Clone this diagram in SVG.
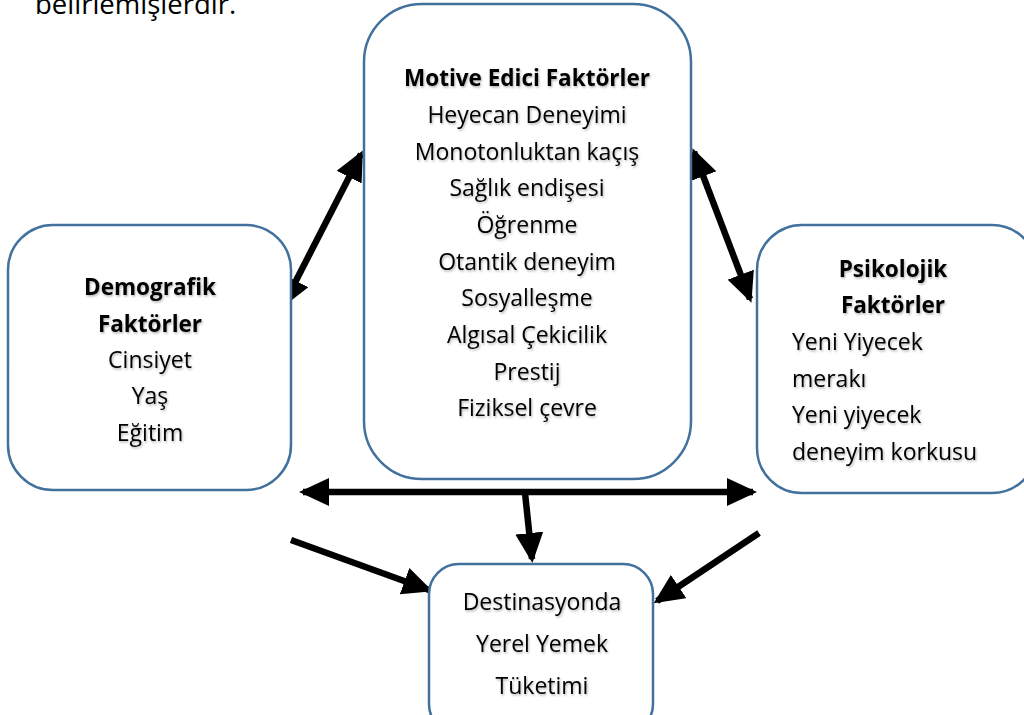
<svg xmlns="http://www.w3.org/2000/svg" width="1024" height="715" viewBox="0 0 1024 715">
<defs>
<style>
.box{fill:#fff;stroke:#41719C;stroke-width:2.5}
.t{font-family:"Open Sans",Lato,"Liberation Sans",sans-serif;font-size:23px;fill:#000;text-anchor:middle;filter:url(#sh)}
.b{font-weight:bold;font-size:22.5px}
.l{text-anchor:start}
.c{stroke:#000;stroke-width:6.5;fill:none}
</style>
<filter id="sh" x="-10%" y="-30%" width="120%" height="160%">
<feDropShadow dx="1" dy="1.5" stdDeviation="1" flood-color="#000" flood-opacity="0.3"/>
</filter>
<marker id="ah" viewBox="0 0 30 28" refX="26" refY="14" markerWidth="30" markerHeight="28" markerUnits="userSpaceOnUse" orient="auto-start-reverse">
<path d="M0,0 L30,14 L0,28 Z" fill="#000"/>
</marker>
</defs>
<text x="35" y="14" font-family="'Open Sans',Lato,'Liberation Sans',sans-serif" font-size="27.5" fill="#000">belirlemişlerdir.</text>
<g id="connectors">
<line class="c" x1="361" y1="154" x2="284" y2="304" marker-start="url(#ah)" marker-end="url(#ah)"/>
<line class="c" x1="694" y1="152" x2="750" y2="299" marker-start="url(#ah)" marker-end="url(#ah)"/>
<line class="c" x1="303" y1="492" x2="753" y2="492" marker-start="url(#ah)" marker-end="url(#ah)"/>
<line class="c" x1="525" y1="493" x2="532" y2="559" marker-end="url(#ah)"/>
<line class="c" x1="291" y1="540" x2="429" y2="590" marker-end="url(#ah)"/>
<line class="c" x1="759" y1="533" x2="657" y2="601" marker-end="url(#ah)"/>
</g>
<g id="motive">
<rect class="box" x="364" y="4" width="327" height="475" rx="58"/>
<text class="t b" x="527" y="86">Motive Edici Faktörler</text>
<text class="t" x="527" y="123">Heyecan Deneyimi</text>
<text class="t" x="527" y="160">Monotonluktan kaçış</text>
<text class="t" x="527" y="196">Sağlık endişesi</text>
<text class="t" x="527" y="233">Öğrenme</text>
<text class="t" x="527" y="270">Otantik deneyim</text>
<text class="t" x="527" y="306">Sosyalleşme</text>
<text class="t" x="527" y="343">Algısal Çekicilik</text>
<text class="t" x="527" y="380">Prestij</text>
<text class="t" x="527" y="416">Fiziksel çevre</text>
</g>
<g id="demografik">
<rect class="box" x="8" y="225" width="283" height="265" rx="45"/>
<text class="t b" x="150" y="295">Demografik</text>
<text class="t b" x="150" y="332">Faktörler</text>
<text class="t" x="150" y="368">Cinsiyet</text>
<text class="t" x="150" y="404">Yaş</text>
<text class="t" x="150" y="441">Eğitim</text>
</g>
<g id="psikolojik">
<rect class="box" x="757" y="225" width="280" height="268" rx="45"/>
<text class="t b" x="893" y="277">Psikolojik</text>
<text class="t b" x="893" y="313">Faktörler</text>
<text class="t l" x="792" y="350">Yeni Yiyecek</text>
<text class="t l" x="792" y="387">merakı</text>
<text class="t l" x="792" y="423">Yeni yiyecek</text>
<text class="t l" x="792" y="460">deneyim korkusu</text>
</g>
<g id="tuketim">
<rect class="box" x="429" y="564" width="224" height="170" rx="30"/>
<text class="t" x="542" y="610">Destinasyonda</text>
<text class="t" x="542" y="652">Yerel Yemek</text>
<text class="t" x="542" y="694">Tüketimi</text>
</g>
</svg>
